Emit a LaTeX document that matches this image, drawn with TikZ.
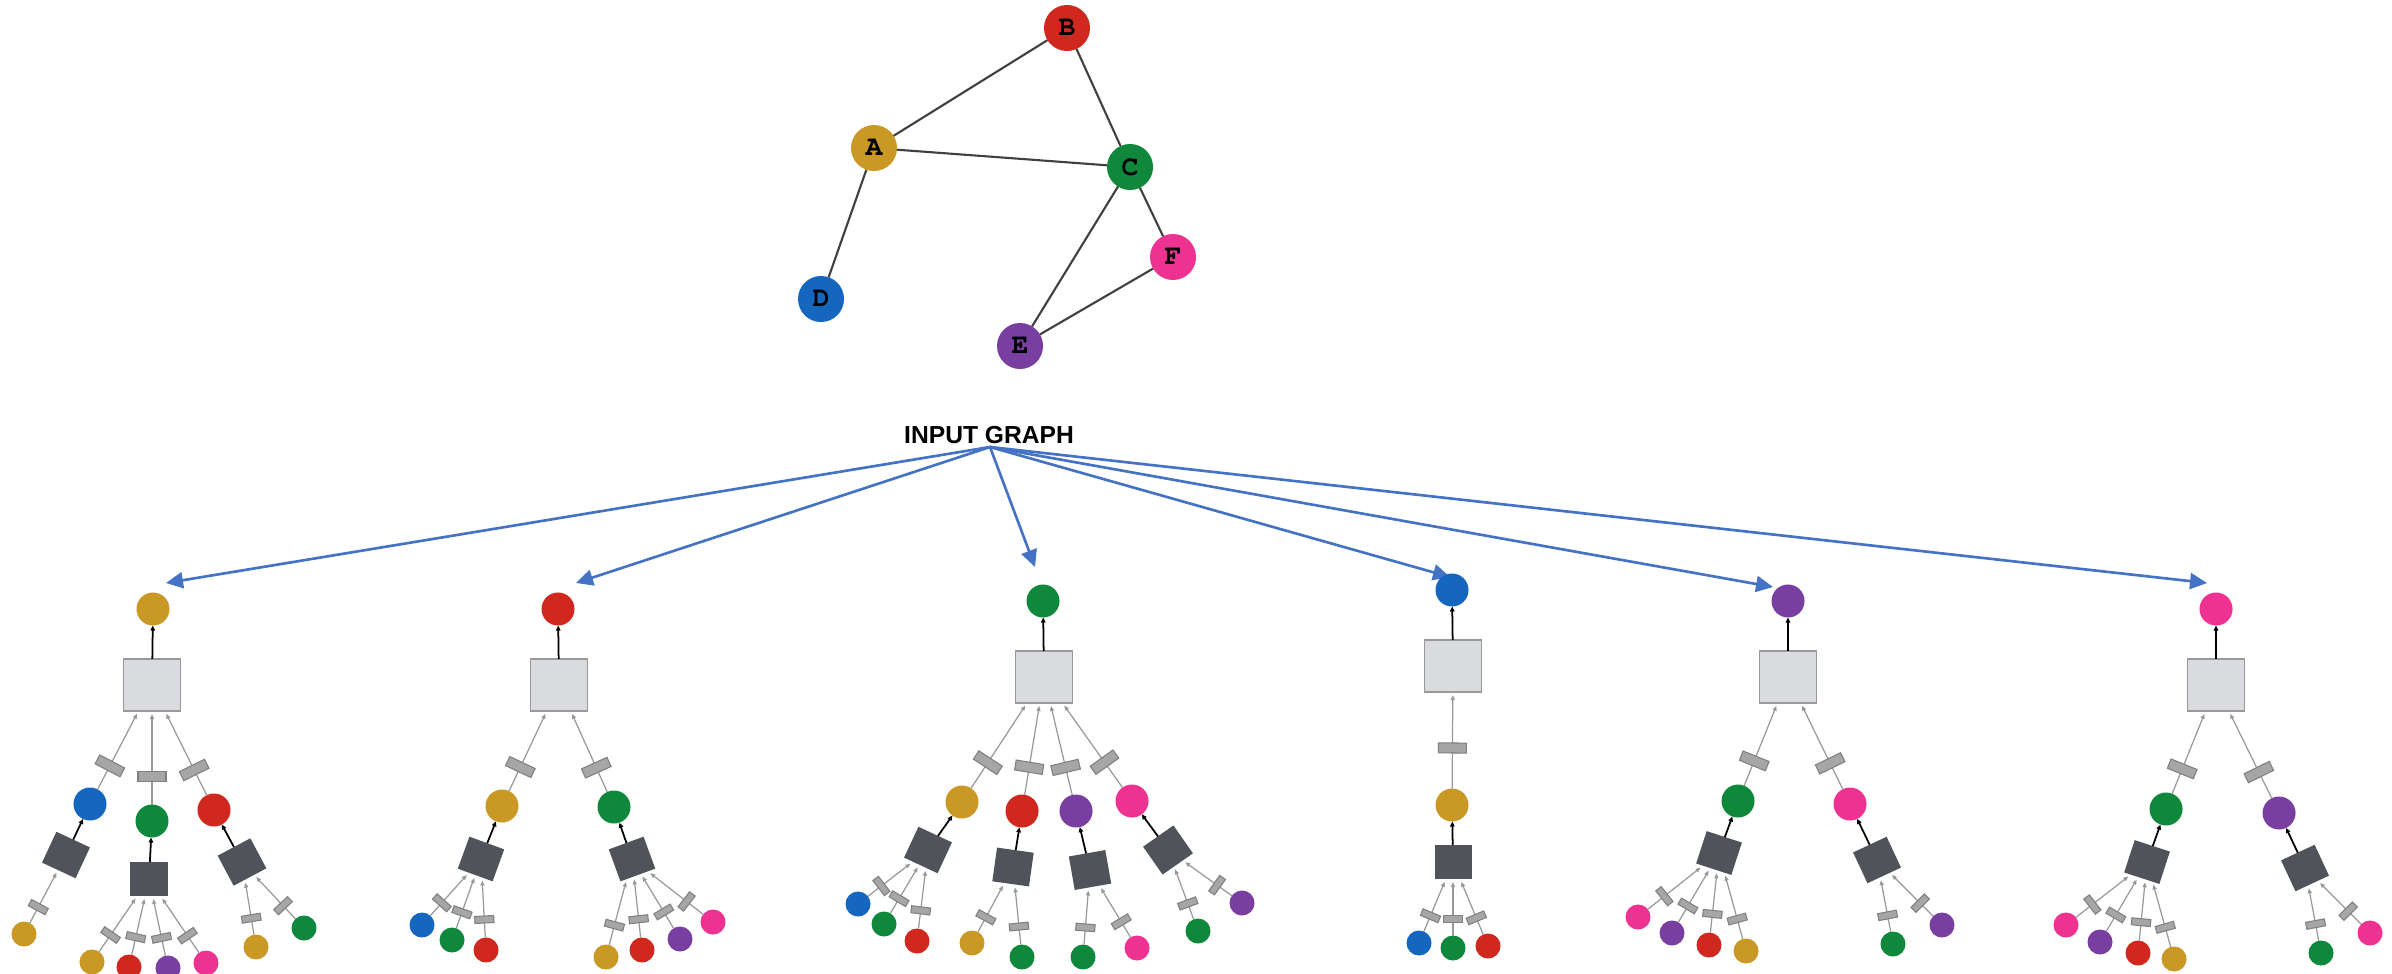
\documentclass[tikz,border=0pt]{standalone}
\usepackage[T1]{fontenc}
\usepackage{fontspec}
\setsansfont{Liberation Sans}
\setmonofont{Liberation Mono}
\usepackage{tikz}
\usetikzlibrary{arrows.meta}

\definecolor{colA}{RGB}{201,152,37}
\definecolor{colB}{RGB}{208,40,30}
\definecolor{colC}{RGB}{16,136,60}
\definecolor{colD}{RGB}{20,102,190}
\definecolor{colE}{RGB}{120,62,160}
\definecolor{colF}{RGB}{238,50,145}
\definecolor{feedblue}{RGB}{68,114,196}
\definecolor{aggfill}{RGB}{218,219,223}
\definecolor{nnfill}{RGB}{80,83,90}

\begin{document}
\begin{tikzpicture}[
  x=0.01cm, y=-0.01cm,
  every node/.style={inner sep=0pt, outer sep=0pt},
  vert/.style={circle, minimum size=0.46cm, font=\fontencoding{T1}\fontfamily{pcr}\fontseries{b}\fontsize{8}{9}\selectfont},
  link/.style={draw=black!75, line width=0.6pt},
  title/.style={font=\sffamily\bfseries\fontsize{7}{8}\selectfont},
  feed/.style={draw=feedblue, line width=0.75pt, -{Triangle[length=0.17cm, width=0.16cm]}},
  rootnode/.style={circle, minimum size=0.33cm},
  hopnode/.style={circle, minimum size=0.33cm},
  leafnode/.style={circle, minimum size=0.25cm},
  agg/.style={rectangle, draw=black!40, fill=aggfill, line width=0.5pt, minimum width=0.57cm, minimum height=0.52cm},
  nnbox/.style={rectangle, fill=nnfill, minimum width=0.37cm, minimum height=0.34cm},
  msgtag/.style={rectangle, draw=black!50, fill=black!35, line width=0.3pt, minimum width=0.10cm, minimum height=0.28cm, sloped, pos=0.3},
  leaftag/.style={rectangle, draw=black!50, fill=black!35, line width=0.3pt, minimum width=0.07cm, minimum height=0.19cm, sloped, pos=0.3},
  msgedge/.style={draw=black!40, line width=0.35pt, -{Triangle[length=0.05cm, width=0.04cm]}, shorten >=0.03cm},
  upedge/.style={draw=black, line width=0.5pt, -{Triangle[length=0.05cm, width=0.045cm]}}
]
\path[use as bounding box, fill=white] (0,0) rectangle (2392,973);

% input graph
\node[vert, fill=colA] (A) at (874,148) {A};
\node[vert, fill=colB] (B) at (1067,28) {B};
\node[vert, fill=colC] (C) at (1130,167) {C};
\node[vert, fill=colD] (D) at (821,299) {D};
\node[vert, fill=colE] (E) at (1020,346) {E};
\node[vert, fill=colF] (F) at (1173,257) {F};

\draw[link] (A) -- (B);
\draw[link] (B) -- (C);
\draw[link] (A) -- (C);
\draw[link] (A) -- (D);
\draw[link] (C) -- (E);
\draw[link] (C) -- (F);
\draw[link] (E) -- (F);

\node[title] (title) at (989,435) {INPUT GRAPH};
\coordinate (src) at (990,447);
\coordinate (inA) at (166,583);
\coordinate (inB) at (576,583);
\coordinate (inC) at (1035,567);
\coordinate (inD) at (1450,577);
\coordinate (inE) at (1773,587);
\coordinate (inF) at (2207,583);

\draw[feed] (src) -- (inA);
\draw[feed] (src) -- (inB);
\draw[feed] (src) -- (inC);
\draw[feed] (src) -- (inD);
\draw[feed] (src) -- (inE);
\draw[feed] (src) -- (inF);

% tree of A
\node[rootnode, fill=colA] (tA) at (153,609) {};
\node[agg] (gA) at (152,685) {};
\node[hopnode, fill=colD] (tA-D) at (90,804) {};
\node[hopnode, fill=colC] (tA-C) at (152,821) {};
\node[hopnode, fill=colB] (tA-B) at (214,810) {};
\node[nnbox, rotate=-25] (nA-D) at (66,855) {};
\node[nnbox] (nA-C) at (149,879) {};
\node[nnbox, rotate=28] (nA-B) at (242,862) {};
\node[leafnode, fill=colA] (tA-D-A) at (24,934) {};
\node[leafnode, fill=colA] (tA-C-A) at (92,962) {};
\node[leafnode, fill=colB] (tA-C-B) at (129,967) {};
\node[leafnode, fill=colE] (tA-C-E) at (168,968) {};
\node[leafnode, fill=colF] (tA-C-F) at (206,963) {};
\node[leafnode, fill=colA] (tA-B-A) at (256,947) {};
\node[leafnode, fill=colC] (tA-B-C) at (304,928) {};

\draw[upedge] (gA) -- (tA);
\draw[msgedge] (tA-D) -- node[msgtag] {} (gA);
\draw[msgedge] (tA-C) -- node[msgtag] {} (gA);
\draw[msgedge] (tA-B) -- node[msgtag] {} (gA);
\draw[upedge] (nA-D) -- (tA-D);
\draw[upedge] (nA-C) -- (tA-C);
\draw[upedge] (nA-B) -- (tA-B);
\draw[msgedge] (tA-D-A) -- node[leaftag] {} (nA-D);
\draw[msgedge] (tA-C-A) -- node[leaftag] {} (nA-C);
\draw[msgedge] (tA-C-B) -- node[leaftag] {} (nA-C);
\draw[msgedge] (tA-C-E) -- node[leaftag] {} (nA-C);
\draw[msgedge] (tA-C-F) -- node[leaftag] {} (nA-C);
\draw[msgedge] (tA-B-A) -- node[leaftag] {} (nA-B);
\draw[msgedge] (tA-B-C) -- node[leaftag] {} (nA-B);

% tree of B
\node[rootnode, fill=colB] (tB) at (558,609) {};
\node[agg] (gB) at (559,685) {};
\node[hopnode, fill=colA] (tB-A) at (502,806) {};
\node[hopnode, fill=colC] (tB-C) at (614,807) {};
\node[nnbox, rotate=-20] (nB-A) at (481,859) {};
\node[nnbox, rotate=20] (nB-C) at (632,859) {};
\node[leafnode, fill=colD] (tB-A-D) at (422,925) {};
\node[leafnode, fill=colC] (tB-A-C) at (452,940) {};
\node[leafnode, fill=colB] (tB-A-B) at (486,950) {};
\node[leafnode, fill=colA] (tB-C-A) at (606,957) {};
\node[leafnode, fill=colB] (tB-C-B) at (642,950) {};
\node[leafnode, fill=colE] (tB-C-E) at (680,939) {};
\node[leafnode, fill=colF] (tB-C-F) at (713,922) {};

\draw[upedge] (gB) -- (tB);
\draw[msgedge] (tB-A) -- node[msgtag] {} (gB);
\draw[msgedge] (tB-C) -- node[msgtag] {} (gB);
\draw[upedge] (nB-A) -- (tB-A);
\draw[upedge] (nB-C) -- (tB-C);
\draw[msgedge] (tB-A-D) -- node[leaftag] {} (nB-A);
\draw[msgedge] (tB-A-C) -- node[leaftag] {} (nB-A);
\draw[msgedge] (tB-A-B) -- node[leaftag] {} (nB-A);
\draw[msgedge] (tB-C-A) -- node[leaftag] {} (nB-C);
\draw[msgedge] (tB-C-B) -- node[leaftag] {} (nB-C);
\draw[msgedge] (tB-C-E) -- node[leaftag] {} (nB-C);
\draw[msgedge] (tB-C-F) -- node[leaftag] {} (nB-C);

% tree of C
\node[rootnode, fill=colC] (tC) at (1043,601) {};
\node[agg] (gC) at (1044,677) {};
\node[hopnode, fill=colA] (tC-A) at (962,802) {};
\node[hopnode, fill=colB] (tC-B) at (1022,811) {};
\node[hopnode, fill=colE] (tC-E) at (1076,811) {};
\node[hopnode, fill=colF] (tC-F) at (1132,801) {};
\node[nnbox, rotate=-25] (nC-A) at (928,850) {};
\node[nnbox, rotate=-8] (nC-B) at (1013,867) {};
\node[nnbox, rotate=10] (nC-E) at (1090,870) {};
\node[nnbox, rotate=35] (nC-F) at (1168,850) {};
\node[leafnode, fill=colD] (tC-A-D) at (858,904) {};
\node[leafnode, fill=colC] (tC-A-C) at (884,924) {};
\node[leafnode, fill=colB] (tC-A-B) at (917,941) {};
\node[leafnode, fill=colA] (tC-B-A) at (972,943) {};
\node[leafnode, fill=colC] (tC-B-C) at (1022,957) {};
\node[leafnode, fill=colC] (tC-E-C) at (1083,957) {};
\node[leafnode, fill=colF] (tC-E-F) at (1137,948) {};
\node[leafnode, fill=colC] (tC-F-C) at (1198,931) {};
\node[leafnode, fill=colE] (tC-F-E) at (1242,903) {};

\draw[upedge] (gC) -- (tC);
\draw[msgedge] (tC-A) -- node[msgtag] {} (gC);
\draw[msgedge] (tC-B) -- node[msgtag] {} (gC);
\draw[msgedge] (tC-E) -- node[msgtag] {} (gC);
\draw[msgedge] (tC-F) -- node[msgtag] {} (gC);
\draw[upedge] (nC-A) -- (tC-A);
\draw[upedge] (nC-B) -- (tC-B);
\draw[upedge] (nC-E) -- (tC-E);
\draw[upedge] (nC-F) -- (tC-F);
\draw[msgedge] (tC-A-D) -- node[leaftag] {} (nC-A);
\draw[msgedge] (tC-A-C) -- node[leaftag] {} (nC-A);
\draw[msgedge] (tC-A-B) -- node[leaftag] {} (nC-A);
\draw[msgedge] (tC-B-A) -- node[leaftag] {} (nC-B);
\draw[msgedge] (tC-B-C) -- node[leaftag] {} (nC-B);
\draw[msgedge] (tC-E-C) -- node[leaftag] {} (nC-E);
\draw[msgedge] (tC-E-F) -- node[leaftag] {} (nC-E);
\draw[msgedge] (tC-F-C) -- node[leaftag] {} (nC-F);
\draw[msgedge] (tC-F-E) -- node[leaftag] {} (nC-F);

% tree of D
\node[rootnode, fill=colD] (tD) at (1452,590) {};
\node[agg] (gD) at (1453,666) {};
\node[hopnode, fill=colA] (tD-A) at (1452,805) {};
\node[nnbox] (nD-A) at (1453,862) {};
\node[leafnode, fill=colD] (tD-A-D) at (1419,943) {};
\node[leafnode, fill=colC] (tD-A-C) at (1453,948) {};
\node[leafnode, fill=colB] (tD-A-B) at (1488,946) {};

\draw[upedge] (gD) -- (tD);
\draw[msgedge] (tD-A) -- node[msgtag, pos=0.42] {} (gD);
\draw[upedge] (nD-A) -- (tD-A);
\draw[msgedge] (tD-A-D) -- node[leaftag] {} (nD-A);
\draw[msgedge] (tD-A-C) -- node[leaftag] {} (nD-A);
\draw[msgedge] (tD-A-B) -- node[leaftag] {} (nD-A);

% tree of E
\node[rootnode, fill=colE] (tE) at (1788,601) {};
\node[agg] (gE) at (1788,677) {};
\node[hopnode, fill=colC] (tE-C) at (1738,801) {};
\node[hopnode, fill=colF] (tE-F) at (1850,804) {};
\node[nnbox, rotate=-18] (nE-C) at (1719,853) {};
\node[nnbox, rotate=25] (nE-F) at (1877,860) {};
\node[leafnode, fill=colF] (tE-C-F) at (1638,917) {};
\node[leafnode, fill=colE] (tE-C-E) at (1672,933) {};
\node[leafnode, fill=colB] (tE-C-B) at (1709,945) {};
\node[leafnode, fill=colA] (tE-C-A) at (1746,951) {};
\node[leafnode, fill=colC] (tE-F-C) at (1893,944) {};
\node[leafnode, fill=colE] (tE-F-E) at (1942,925) {};

\draw[upedge] (gE) -- (tE);
\draw[msgedge] (tE-C) -- node[msgtag] {} (gE);
\draw[msgedge] (tE-F) -- node[msgtag] {} (gE);
\draw[upedge] (nE-C) -- (tE-C);
\draw[upedge] (nE-F) -- (tE-F);
\draw[msgedge] (tE-C-F) -- node[leaftag] {} (nE-C);
\draw[msgedge] (tE-C-E) -- node[leaftag] {} (nE-C);
\draw[msgedge] (tE-C-B) -- node[leaftag] {} (nE-C);
\draw[msgedge] (tE-C-A) -- node[leaftag] {} (nE-C);
\draw[msgedge] (tE-F-C) -- node[leaftag] {} (nE-F);
\draw[msgedge] (tE-F-E) -- node[leaftag] {} (nE-F);

% tree of F
\node[rootnode, fill=colF] (tF) at (2216,609) {};
\node[agg] (gF) at (2216,685) {};
\node[hopnode, fill=colC] (tF-C) at (2166,809) {};
\node[hopnode, fill=colE] (tF-E) at (2279,813) {};
\node[nnbox, rotate=-18] (nF-C) at (2147,862) {};
\node[nnbox, rotate=25] (nF-E) at (2305,868) {};
\node[leafnode, fill=colF] (tF-C-F) at (2066,925) {};
\node[leafnode, fill=colE] (tF-C-E) at (2100,942) {};
\node[leafnode, fill=colB] (tF-C-B) at (2138,953) {};
\node[leafnode, fill=colA] (tF-C-A) at (2174,959) {};
\node[leafnode, fill=colC] (tF-E-C) at (2321,953) {};
\node[leafnode, fill=colF] (tF-E-F) at (2370,933) {};

\draw[upedge] (gF) -- (tF);
\draw[msgedge] (tF-C) -- node[msgtag] {} (gF);
\draw[msgedge] (tF-E) -- node[msgtag] {} (gF);
\draw[upedge] (nF-C) -- (tF-C);
\draw[upedge] (nF-E) -- (tF-E);
\draw[msgedge] (tF-C-F) -- node[leaftag] {} (nF-C);
\draw[msgedge] (tF-C-E) -- node[leaftag] {} (nF-C);
\draw[msgedge] (tF-C-B) -- node[leaftag] {} (nF-C);
\draw[msgedge] (tF-C-A) -- node[leaftag] {} (nF-C);
\draw[msgedge] (tF-E-C) -- node[leaftag] {} (nF-E);
\draw[msgedge] (tF-E-F) -- node[leaftag] {} (nF-E);

\end{tikzpicture}
\end{document}
